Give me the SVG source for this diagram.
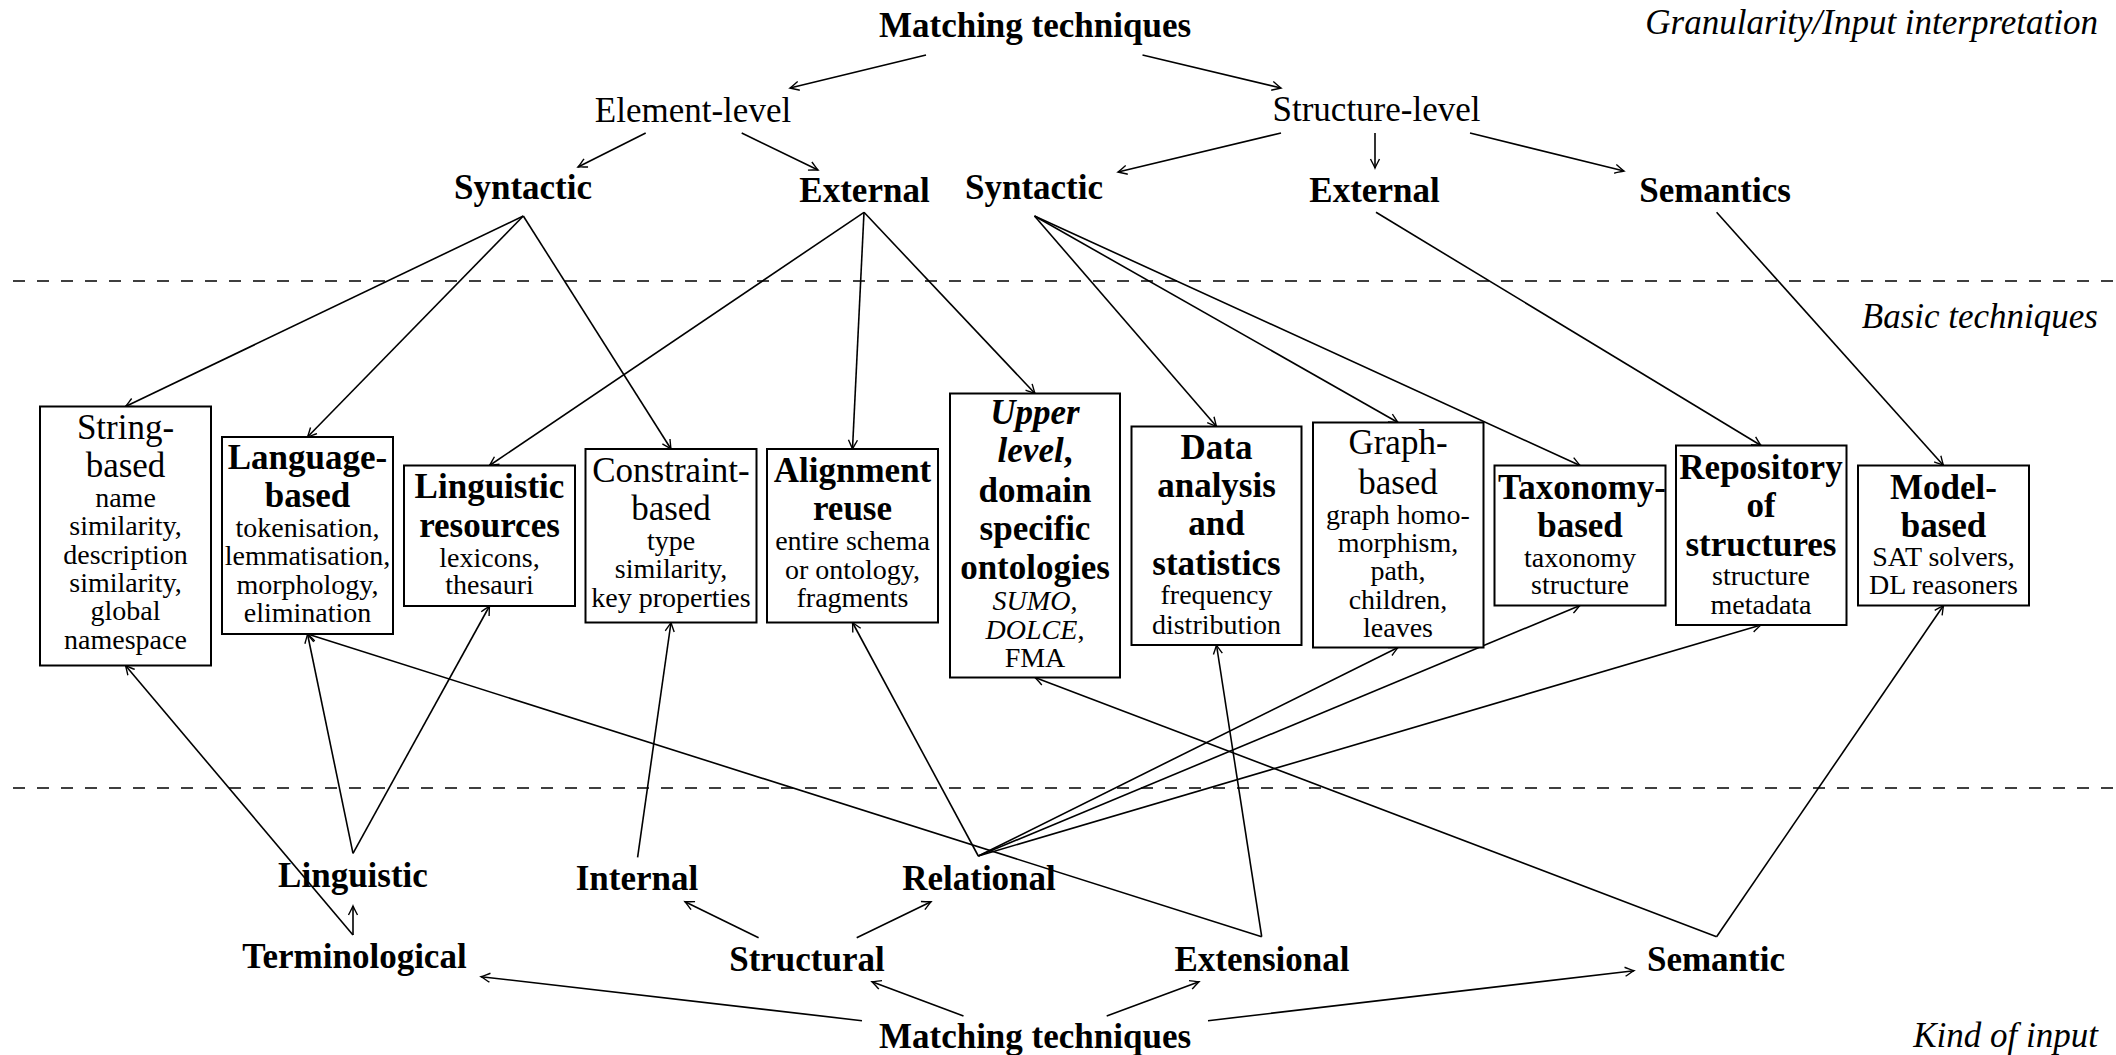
<svg xmlns="http://www.w3.org/2000/svg" width="2116" height="1055" viewBox="0 0 2116 1055">
<style>
text{font-family:"Liberation Serif","Times New Roman",serif;font-size:35px;text-anchor:middle;fill:#000}
.b{font-weight:bold}
.i{font-style:italic}
.s{font-size:28px}
.r{text-anchor:end}
.box{fill:#fff;stroke:#000;stroke-width:2}
#connectors line{stroke:#000;stroke-width:1.6;marker-end:url(#arr)}
.dash{stroke:#000;stroke-width:1.6;stroke-dasharray:12 12}
</style>
<defs>
<marker id="arr" markerUnits="userSpaceOnUse" markerWidth="20" markerHeight="20" refX="0" refY="0" orient="auto" overflow="visible">
<path d="M-9,-4.5 C-5,-2.5 -2,-0.8 0,0 C-2,0.8 -5,2.5 -9,4.5" fill="none" stroke="#000" stroke-width="1.4"/>
</marker>
</defs>
<rect width="2116" height="1055" fill="#fff"/>
<line class="dash" x1="13" y1="281" x2="2116" y2="281"/>
<line class="dash" x1="13" y1="788" x2="2116" y2="788"/>
<text class="i r" x="2098" y="34">Granularity/Input interpretation</text>
<text class="i r" x="2098" y="328">Basic techniques</text>
<text class="i r" x="2098" y="1047">Kind of input</text>

<g id="connectors">
<line x1="926" y1="55" x2="790" y2="88"/>
<line x1="1142.5" y1="55" x2="1281" y2="88"/>
<line x1="645.7" y1="133" x2="578" y2="167"/>
<line x1="741.7" y1="133" x2="818" y2="170"/>
<line x1="1281" y1="133" x2="1118" y2="172"/>
<line x1="1375" y1="133" x2="1375" y2="168"/>
<line x1="1470" y1="133" x2="1624" y2="171"/>
<line x1="523.3" y1="216" x2="125.5" y2="406.5"/>
<line x1="523.3" y1="216" x2="307.5" y2="437"/>
<line x1="523.3" y1="216" x2="671" y2="449"/>
<line x1="864" y1="212.3" x2="489.5" y2="465.5"/>
<line x1="864" y1="212.3" x2="852.5" y2="449"/>
<line x1="864" y1="212.3" x2="1035" y2="393.5"/>
<line x1="1034.5" y1="216" x2="1216.5" y2="426.5"/>
<line x1="1034.5" y1="216" x2="1398" y2="422.5"/>
<line x1="1034.5" y1="216" x2="1580" y2="465.5"/>
<line x1="1376" y1="212.3" x2="1761" y2="445.5"/>
<line x1="1716.6" y1="212.3" x2="1943.5" y2="465.5"/>
<line x1="353" y1="935" x2="125.5" y2="665.5"/>
<line x1="353" y1="853.3" x2="307.5" y2="634"/>
<line x1="353" y1="853.3" x2="489.5" y2="606"/>
<line x1="637.6" y1="857.3" x2="671" y2="622.5"/>
<line x1="978.3" y1="856" x2="852.5" y2="622.5"/>
<line x1="978.3" y1="856" x2="1398" y2="647.5"/>
<line x1="978.3" y1="856" x2="1580" y2="605.5"/>
<line x1="978.3" y1="856" x2="1761" y2="625"/>
<line x1="1261.7" y1="936.7" x2="307.5" y2="634"/>
<line x1="1261.7" y1="936.7" x2="1216.5" y2="645"/>
<line x1="1716.6" y1="936.7" x2="1035" y2="677.5"/>
<line x1="1716.6" y1="936.7" x2="1943.5" y2="605.5"/>
<line x1="353" y1="935" x2="353" y2="906"/>
<line x1="758.6" y1="937.7" x2="685" y2="901.7"/>
<line x1="856.7" y1="937.7" x2="931" y2="901.7"/>
<line x1="862" y1="1020.7" x2="481" y2="976.7"/>
<line x1="963.5" y1="1016" x2="872" y2="981.7"/>
<line x1="1106.7" y1="1016" x2="1199" y2="981.7"/>
<line x1="1208" y1="1020.7" x2="1634" y2="970.7"/>
</g>

<g id="top-matching"><text class="b" x="1035" y="37">Matching techniques</text></g>
<g id="element-level"><text x="693" y="122">Element-level</text></g>
<g id="structure-level"><text x="1376.5" y="121">Structure-level</text></g>
<g id="syntactic-el"><text class="b" x="523" y="199">Syntactic</text></g>
<g id="external-el"><text class="b" x="864.5" y="201.7">External</text></g>
<g id="syntactic-st"><text class="b" x="1034" y="199">Syntactic</text></g>
<g id="external-st"><text class="b" x="1374.5" y="201.7">External</text></g>
<g id="semantics"><text class="b" x="1715" y="201.7">Semantics</text></g>

<g id="string-based">
<rect class="box" x="40" y="406.5" width="171" height="259"/>
<text x="125.5" y="439">String-</text>
<text x="125.5" y="477">based</text>
<text class="s" x="125.5" y="506.5">name</text>
<text class="s" x="125.5" y="535">similarity,</text>
<text class="s" x="125.5" y="563.5">description</text>
<text class="s" x="125.5" y="592">similarity,</text>
<text class="s" x="125.5" y="620">global</text>
<text class="s" x="125.5" y="648.5">namespace</text>
</g>
<g id="language-based">
<rect class="box" x="222" y="437" width="171" height="197"/>
<text class="b" x="307.5" y="469">Language-</text>
<text class="b" x="307.5" y="507">based</text>
<text class="s" x="307.5" y="536.5">tokenisation,</text>
<text class="s" x="307.5" y="565">lemmatisation,</text>
<text class="s" x="307.5" y="593.5">morphology,</text>
<text class="s" x="307.5" y="621.5">elimination</text>
</g>
<g id="linguistic-resources">
<rect class="box" x="404" y="465.5" width="171" height="140.5"/>
<text class="b" x="489.5" y="498">Linguistic</text>
<text class="b" x="489.5" y="536.5">resources</text>
<text class="s" x="489.5" y="566.5">lexicons,</text>
<text class="s" x="489.5" y="593.5">thesauri</text>
</g>
<g id="constraint-based">
<rect class="box" x="585.5" y="449" width="171" height="173.5"/>
<text x="671" y="482">Constraint-</text>
<text x="671" y="519.5">based</text>
<text class="s" x="671" y="550">type</text>
<text class="s" x="671" y="578">similarity,</text>
<text class="s" x="671" y="606.5">key properties</text>
</g>
<g id="alignment-reuse">
<rect class="box" x="767" y="449" width="171" height="173.5"/>
<text class="b" x="852.5" y="482">Alignment</text>
<text class="b" x="852.5" y="519.5">reuse</text>
<text class="s" x="852.5" y="550">entire schema</text>
<text class="s" x="852.5" y="578.5">or ontology,</text>
<text class="s" x="852.5" y="606.5">fragments</text>
</g>
<g id="upper-level">
<rect class="box" x="950" y="393.5" width="170" height="284"/>
<text class="b i" x="1035" y="423.5">Upper</text>
<text class="b" x="1035" y="462"><tspan class="i">level</tspan>,</text>
<text class="b" x="1035" y="502">domain</text>
<text class="b" x="1035" y="540">specific</text>
<text class="b" x="1035" y="579">ontologies</text>
<text class="s" x="1035" y="610"><tspan class="i">SUMO</tspan>,</text>
<text class="s" x="1035" y="638.5"><tspan class="i">DOLCE</tspan>,</text>
<text class="s" x="1035" y="667">FMA</text>
</g>
<g id="data-analysis">
<rect class="box" x="1131.5" y="426.5" width="170" height="218.5"/>
<text class="b" x="1216.5" y="458.5">Data</text>
<text class="b" x="1216.5" y="497">analysis</text>
<text class="b" x="1216.5" y="535">and</text>
<text class="b" x="1216.5" y="574.5">statistics</text>
<text class="s" x="1216.5" y="603.5">frequency</text>
<text class="s" x="1216.5" y="633.5">distribution</text>
</g>
<g id="graph-based">
<rect class="box" x="1313" y="422.5" width="170.5" height="225"/>
<text x="1398" y="454">Graph-</text>
<text x="1398" y="493.5">based</text>
<text class="s" x="1398" y="523.5">graph homo-</text>
<text class="s" x="1398" y="552">morphism,</text>
<text class="s" x="1398" y="580">path,</text>
<text class="s" x="1398" y="608.5">children,</text>
<text class="s" x="1398" y="636.5">leaves</text>
</g>
<g id="taxonomy-based">
<rect class="box" x="1494.5" y="465.5" width="171" height="140"/>
<text class="b" x="1582" y="498.5">Taxonomy-</text>
<text class="b" x="1580" y="537">based</text>
<text class="s" x="1580" y="566.5">taxonomy</text>
<text class="s" x="1580" y="593.5">structure</text>
</g>
<g id="repository">
<rect class="box" x="1676" y="445.5" width="170.5" height="179.5"/>
<text class="b" x="1761" y="478.5">Repository</text>
<text class="b" x="1761" y="517">of</text>
<text class="b" x="1761" y="556">structures</text>
<text class="s" x="1761" y="585">structure</text>
<text class="s" x="1761" y="613.5">metadata</text>
</g>
<g id="model-based">
<rect class="box" x="1858" y="465.5" width="171" height="140"/>
<text class="b" x="1943.5" y="498.5">Model-</text>
<text class="b" x="1943.5" y="537">based</text>
<text class="s" x="1943.5" y="566">SAT solvers,</text>
<text class="s" x="1943.5" y="593.5">DL reasoners</text>
</g>

<g id="linguistic"><text class="b" x="353" y="887">Linguistic</text></g>
<g id="internal"><text class="b" x="637" y="890">Internal</text></g>
<g id="relational"><text class="b" x="979" y="890">Relational</text></g>
<g id="terminological"><text class="b" x="354.5" y="968">Terminological</text></g>
<g id="structural"><text class="b" x="807" y="970.7">Structural</text></g>
<g id="extensional"><text class="b" x="1262" y="970.7">Extensional</text></g>
<g id="semantic"><text class="b" x="1716" y="970.7">Semantic</text></g>
<g id="bottom-matching"><text class="b" x="1035" y="1048">Matching techniques</text></g>
</svg>
